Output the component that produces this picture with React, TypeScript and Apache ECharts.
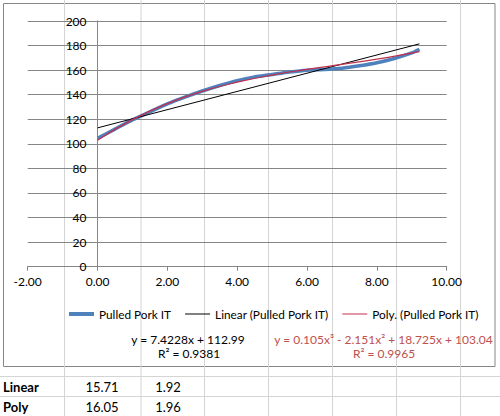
import React, { useEffect, useRef } from "react";
import * as echarts from "echarts";

// ---- data ----
const dataX = [0, 0.5, 1, 1.5, 2, 2.5, 3, 3.5, 4, 4.5, 5, 5.5, 6, 6.5, 7, 7.5, 8, 8.5, 9, 9.22];
const pulledPork = [104.5, 112, 119.5, 126, 132.5, 138, 143, 147.5, 151.5, 154.5, 156.5, 158.5, 160, 160.5, 161.5, 163.5, 166, 169.5, 174, 177];
const linearX = [0, 9.22];
const linearY = [113.0, 181.4];
const polyX = [0, 1, 2, 3, 4, 5, 6, 7, 8, 9, 9.22];
const polyY = [103, 119.7, 132.7, 142.7, 150.2, 156, 160.6, 164.7, 168.9, 173.9, 175.1];
const seriesNames = ["Pulled Pork IT", "Linear (Pulled Pork IT)", "Poly. (Pulled Pork IT)"];
const linearEq = "y = 7.4228x + 112.99";
const linearR2 = "R² = 0.9381";
const polyEq = "y = 0.105x³ - 2.151x² + 18.725x + 103.04";
const polyR2 = "R² = 0.9965";
const tableRows = ["Linear", "Poly"];
const tableCol1 = ["15.71", "16.05"];
const tableCol2 = ["1.92", "1.96"];
const sheetCols = [64, 140.5, 204, 268, 332, 396, 460];
const sheetRows = [376, 396];

const FONT = "Lato, 'Liberation Sans', sans-serif";
const GRID = "#868686";
const BLUE = "#4f81bd";
const RED = "#c0304d";

export default function App() {
  const ref = useRef<HTMLDivElement>(null);
  useEffect(() => {
    if (!ref.current) return;
    const chart = echarts.init(ref.current, null, { renderer: "svg" });
    const zip = (xs: number[], ys: number[]) => xs.map((x, i) => [x, ys[i]]);

    const sheetGraphics: any[] = [];
    sheetCols.forEach((x) =>
      sheetGraphics.push({
        type: "line", z: 0, silent: true,
        shape: { x1: x + 0.5, y1: 0, x2: x + 0.5, y2: 416 },
        style: { stroke: "#d4d4d4", lineWidth: 1 },
      })
    );
    sheetRows.forEach((y) =>
      sheetGraphics.push({
        type: "line", z: 0, silent: true,
        shape: { x1: 0, y1: y + 0.5, x2: 500, y2: y + 0.5 },
        style: { stroke: "#d4d4d4", lineWidth: 1 },
      })
    );
    tableRows.forEach((t, i) => {
      const cy = 386.5 + i * 20;
      sheetGraphics.push({
        type: "text", z: 1, x: 3, y: cy,
        style: { text: t, font: `bold 13px ${FONT}`, fill: "#000", textVerticalAlign: "middle", textAlign: "left" },
      });
      sheetGraphics.push({
        type: "text", z: 1, x: 102, y: cy,
        style: { text: tableCol1[i], font: `13px ${FONT}`, fill: "#000", textVerticalAlign: "middle", textAlign: "center" },
      });
      sheetGraphics.push({
        type: "text", z: 1, x: 168, y: cy,
        style: { text: tableCol2[i], font: `13px ${FONT}`, fill: "#000", textVerticalAlign: "middle", textAlign: "center" },
      });
    });

    const gridLeft = 27.7;
    const gridRight = 446.7;
    const zeroX = gridLeft + ((0 - -2) / 12) * (gridRight - gridLeft);

    chart.setOption({
      animation: false,
      backgroundColor: "#fff",
      textStyle: { fontFamily: FONT },
      grid: {
        left: gridLeft, right: 500 - gridRight, top: 21, bottom: 416 - 266.7,
        containLabel: false, outerBoundsMode: "none",
      },
      legend: {
        data: [
          { name: seriesNames[0], icon: "path://M0,0L25,0L25,4L0,4Z" },
          { name: seriesNames[1], icon: "path://M0,0L25,0L25,1L0,1Z" },
          { name: seriesNames[2], icon: "path://M0,0L25,0L25,1L0,1Z" },
        ],
        left: 64, top: 303,
        itemWidth: 25, itemHeight: 4, itemGap: 14,
        symbolKeepAspect: true,
        textStyle: { fontSize: 11.8, color: "#000", fontFamily: FONT },
      },
      xAxis: {
        type: "value", min: -2, max: 10, interval: 2,
        axisLine: { show: true, lineStyle: { color: GRID } },
        axisTick: { show: true, length: 4, lineStyle: { color: GRID } },
        axisLabel: { color: "#000", fontSize: 12, margin: 9, formatter: (v: number) => v.toFixed(2) },
        splitLine: { show: false },
      },
      yAxis: {
        type: "value", min: 0, max: 200, interval: 20,
        position: "left",
        offset: -(zeroX - gridLeft),
        axisLine: { show: true, onZero: false, lineStyle: { color: GRID } },
        axisTick: { show: false },
        axisLabel: { color: "#000", fontSize: 12, margin: 11 },
        splitLine: { show: true, lineStyle: { color: GRID, width: 1 } },
      },
      series: [
        {
          name: seriesNames[0], type: "line", data: zip(dataX, pulledPork),
          symbol: "none", smooth: 0.2, z: 2,
          lineStyle: { color: BLUE, width: 3.5 }, itemStyle: { color: BLUE },
        },
        {
          name: seriesNames[1], type: "line", data: zip(linearX, linearY),
          symbol: "none", z: 3,
          lineStyle: { color: "#000", width: 1 }, itemStyle: { color: "#000" },
        },
        {
          name: seriesNames[2], type: "line", data: zip(polyX, polyY),
          symbol: "none", smooth: true, z: 4,
          lineStyle: { color: RED, width: 1.2 }, itemStyle: { color: RED },
        },
      ],
      graphic: [
        ...sheetGraphics,
        {
          type: "rect", z: -1, silent: true,
          shape: { x: 3.5, y: 3.5, width: 491.5, height: 363 },
          style: { fill: "#fff", stroke: GRID, lineWidth: 1 },
        },
        {
          type: "text", x: 188, y: 339,
          style: { text: linearEq, font: `12px ${FONT}`, fill: "#000", textAlign: "center", textVerticalAlign: "middle" },
        },
        {
          type: "text", x: 189, y: 353,
          style: { text: linearR2, font: `12px ${FONT}`, fill: "#000", textAlign: "center", textVerticalAlign: "middle" },
        },
        {
          type: "text", x: 383.5, y: 339,
          style: { text: polyEq, font: `12px ${FONT}`, fill: "#c0504d", textAlign: "center", textVerticalAlign: "middle" },
        },
        {
          type: "text", x: 384, y: 353,
          style: { text: polyR2, font: `12px ${FONT}`, fill: "#c0504d", textAlign: "center", textVerticalAlign: "middle" },
        },
      ],
    });
    return () => chart.dispose();
  }, []);
  return <div ref={ref} style={{ position: "absolute", left: 0, top: 0, width: 500, height: 416 }} />;
}
